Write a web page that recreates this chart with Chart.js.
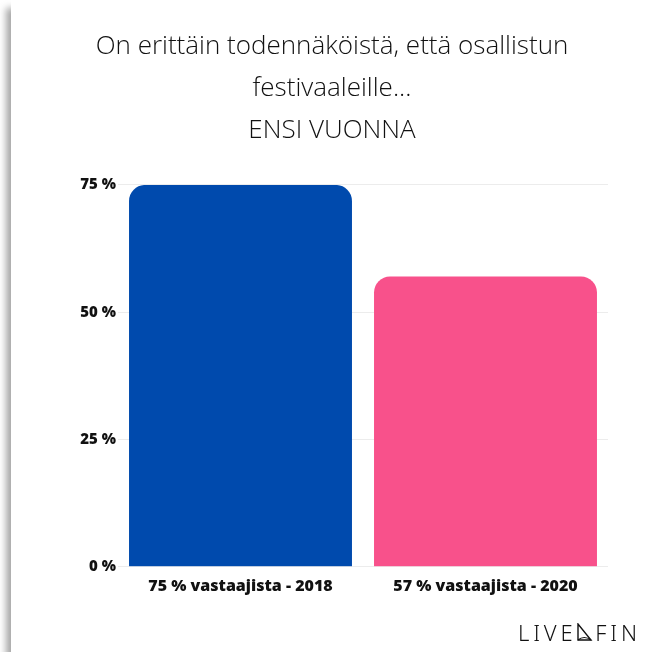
<!DOCTYPE html>
<html>
<head>
<meta charset="utf-8">
<script src="https://cdn.jsdelivr.net/npm/chart.js@4"></script>
<style>
  html, body { margin: 0; padding: 0; background: #fff; width: 653px; height: 652px; overflow: hidden; }
  #card {
    position: absolute; left: 11px; top: 0; width: 642px; height: 652px;
    background: #fff;
    box-shadow: -5px 8px 7px rgba(0,0,0,0.35);
  }
  #logo {
    position: absolute; left: 507px; top: 619px;
    font-family: "Noto Sans", "DejaVu Sans", sans-serif; font-weight: 300;
    font-size: 22px; letter-spacing: 3.8px; color: #111; line-height: 26px;
    white-space: nowrap;
  }
  #logo svg { vertical-align: -2px; margin: 0 2px 0 -1px; }
</style>
</head>
<body>
<div id="card">
  <canvas id="chart" width="642" height="652"></canvas>
  <div id="logo">LIVE<svg width="18" height="20" viewBox="0 0 18 20"><path d="M3 1 L3 17 L16 17 Z" fill="none" stroke="#111" stroke-width="1.4"/><path d="M3 17 Q9 12 16 17" fill="none" stroke="#111" stroke-width="1.2"/></svg>FIN</div>
</div>
<script>
const titleLines = ["On erittäin todennäköistä, että osallistun", "festivaaleille...", "ENSI VUONNA"];
const categories = ["75 % vastaajista - 2018", "57 % vastaajista - 2020"];
const values = [75, 57];
const barColors = ['#004aad', '#f8518b'];
const yTicks = [0, 25, 50, 75];

const chartCanvas = document.getElementById("chart");
const tickFont = '"Open Sans", Lato, sans-serif';

let chartData = {
    labels: categories,
    datasets: [{
        data: values,
        backgroundColor: barColors,
        borderRadius: { topLeft: 16, topRight: 16 },
        borderSkipped: 'bottom',
        barPercentage: 0.91,
        categoryPercentage: 1
    }]
};

let chartOptions = {
    responsive: false,
    animation: { duration: 0 },
    layout: { padding: { left: 0, right: 0, top: 0, bottom: 54 } },
    plugins: {
        legend: { display: false },
        tooltip: { enabled: false },
        title: {
            display: true,
            text: titleLines,
            color: '#111',
            font: { family: '"Open Sans", Lato, sans-serif', size: 26, weight: 300, lineHeight: 1.615 },
            padding: { top: 26, bottom: 33 }
        }
    },
    scales: {
        y: {
            min: 0,
            max: 75,
            afterBuildTicks: axis => { axis.ticks = yTicks.map(v => ({ value: v })); },
            afterFit: axis => { axis.width = 107; },
            grid: { color: '#ececec', drawTicks: false },
            border: { display: false },
            ticks: {
                padding: 2,
                color: '#111',
                font: { family: tickFont, size: 15, weight: 800 },
                callback: v => v + ' %'
            }
        },
        yRight: {
            position: 'right',
            min: 0,
            max: 75,
            afterFit: axis => { axis.width = 45; },
            grid: { display: false },
            border: { display: false },
            ticks: { display: false }
        },
        x: {
            grid: { display: false },
            border: { display: false },
            ticks: {
                padding: 2,
                color: '#111',
                font: { family: tickFont, size: 16, weight: 800 }
            }
        }
    }
};

let barChart = new Chart(chartCanvas, {
    type: 'bar',
    data: chartData,
    options: chartOptions
});
</script>
</body>
</html>
